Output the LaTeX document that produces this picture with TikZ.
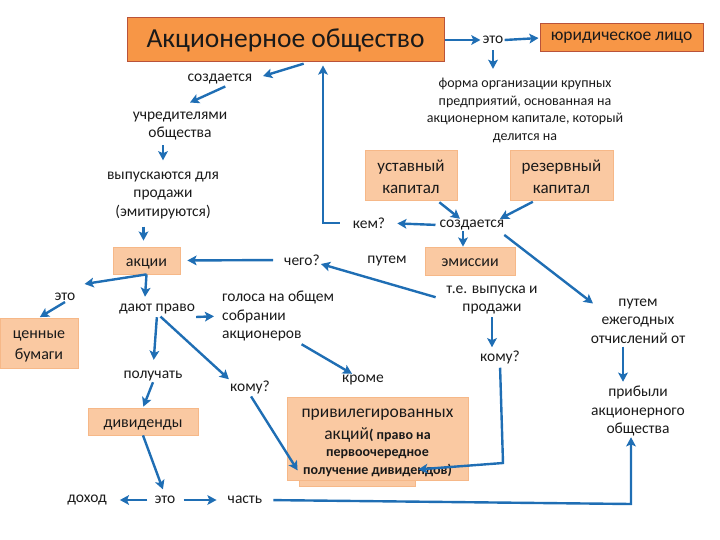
\documentclass[tikz,border=0pt]{standalone}
\usepackage{fontspec}
\setmainfont{Carlito}
\usetikzlibrary{arrows.meta,positioning}
\definecolor{aoorange}{HTML}{F79646}
\definecolor{aored}{HTML}{B9533A}
\definecolor{aopeach}{HTML}{FAC9A2}
\definecolor{aorim}{HTML}{F6B888}
\definecolor{aoblue}{HTML}{1F6EB4}
\definecolor{aoink}{HTML}{1A1A1A}
\tikzset{
  lb/.style={font=\fontsize{15.5}{18.5}\selectfont, align=center, inner sep=1pt, text=aoink},
  topbx/.style={draw=aored, fill=aoorange, line width=1pt, inner sep=0pt, text=aoink},
  pale/.style={draw=aorim, fill=aopeach, line width=0.8pt, inner sep=0pt, align=center, text=aoink, text depth=0pt, font=\fontsize{16}{21}\selectfont},
  one/.style={pale, text height=11pt},
  arr/.style={-{Stealth[length=3.2mm,width=3.4mm,inset=0.7mm]}, line width=2.4pt, color=aoblue},
}
\begin{document}
\begin{tikzpicture}[x=1pt, y=-1pt]
    \useasboundingbox (0,0) rectangle (720,540);
    \node[topbx, minimum width=317pt, minimum height=44pt, font=\fontsize{27.5}{32}\selectfont] (ao) at (285.5,40) {Акционерное общество};
    \node[lb] (eto1) at (493,40) {это};
    \node[topbx, minimum width=163pt, minimum height=28pt, font=\fontsize{17.5}{21}\selectfont] (jur) at (621.5,38) {юридическое лицо};
    \node[lb, font=\fontsize{14}{17.7}\selectfont] (forma) at (525,110.5) {форма организации крупных\\предприятий, основанная на\\акционерном капитале, который\\делится на};
    \node[lb] (sozd1) at (220,79) {создается};
    \node[lb] (uchr) at (180,126) {учредителями\\общества};
    \node[lb] (vyp) at (163,195) {выпускаются для\\продажи\\(эмитируются)};
    \node[one, minimum width=67pt, minimum height=27pt] (akc) at (146.5,260.5) {акции};
    \node[pale, font=\fontsize{17}{22}\selectfont, minimum width=92pt, minimum height=50pt, text height=37pt] (ust) at (411,175) {уставный\\капитал};
    \node[pale, font=\fontsize{17}{22}\selectfont, minimum width=103pt, minimum height=50pt, text height=37pt] (rez) at (561.5,175) {резервный\\капитал};
    \node[lb] (sozd2) at (472,225) {создается};
    \node[lb] (kem) at (369,223) {кем?};
    \node[one, minimum width=90pt, minimum height=28pt] (emis) at (470,261) {эмиссии};
    \node[lb] (putem1) at (387,261) {путем};
    \node[lb] (chego) at (302,260) {чего?};
    \node[lb] (eto2) at (65,297) {это};
    \node[pale, minimum width=78pt, minimum height=50pt, text height=33pt] (cen) at (39,343) {ценные\\бумаги};
    \node[lb] (dayut) at (157,309) {дают право};
    \node[lb, align=left, anchor=west] (golosa) at (221,316) {голоса на общем\\собрании\\акционеров};
    \node[lb] (poluch) at (153,376) {получать};
    \node[lb] (komu1) at (250,387) {кому?};
    \node[one, minimum width=110pt, minimum height=27pt] (div) at (143,421.5) {дивиденды};
    \node[lb] (dohod) at (87,500) {доход};
    \node[lb] (eto3) at (165,500) {это};
    \node[lb] (chast) at (245,500) {часть};
    \node[lb] (krome) at (363,380) {кроме};
    \node[lb] (tevyp) at (492,300) {т.е. выпуска и\\продажи};
    \node[lb] (komu2) at (500,357) {кому?};
    \node[lb] (putem2) at (638,321) {путем\\ежегодных\\отчислений от};
    \node[lb] (prib) at (638,411) {прибыли\\акционерного\\общества};
    \node[pale, minimum width=116pt, minimum height=46pt] (privbk) at (357,463) {};
    \node[pale, minimum width=181pt, minimum height=83pt, text height=71pt, font=\fontsize{14}{17.5}\selectfont] (priv) at (377.5,438.5) {{\fontsize{17.5}{22}\selectfont привилегированных}\\[4pt]{\fontsize{17.5}{22}\selectfont акций}\textbf{( право на}\\\textbf{первоочередное}\\\textbf{получение дивидендов)}};
    \coordinate (cornerR) at (631,504);
    \coordinate (cornerP) at (503,463);
    \foreach \a/\b in {ao.east/eto1.west, eto1.east/jur.west, eto2.south/cen.north, poluch.south/div.north} \draw[arr, shorten >=1pt] (\a) -- (\b);
    \draw[arr, shorten <=5pt, shorten >=8pt] (eto1.south) -- (eto1.south |- forma.north);
    \draw[arr, shorten <=4pt, shorten >=10pt] ([xshift=22pt]ao.south) -- (sozd1.east);
    \draw[arr, shorten <=3pt] ([xshift=8pt]sozd1.south) -- ([xshift=10pt,yshift=8pt]uchr.north);
    \draw[arr, shorten <=4pt, shorten >=10pt] (vyp.north |- uchr.south) -- (vyp.north);
    \draw[arr, shorten <=7pt, shorten >=6pt] ([xshift=-3pt]akc.north |- vyp.south) -- ([xshift=-3pt]akc.north);
    \draw[arr, shorten <=10pt, shorten >=7pt] (chego.west) -- (akc.east);
    \draw[arr, shorten <=10pt] (tevyp.west) -- ([yshift=-4pt]chego.east);
    \draw[arr, shorten <=3pt] ([xshift=26pt]ust.south) -- ([xshift=-12pt]sozd2.north);
    \draw[arr, shorten <=3pt] ([xshift=-26pt]rez.south) -- ([xshift=28pt]sozd2.north);
    \draw[arr, shorten <=3pt, shorten >=11pt] (sozd2.west) -- (kem.east);
    \draw[arr, shorten <=12pt, shorten >=3pt] (kem.west) -| ([xshift=37.5pt]ao.south);
    \draw[arr] ([xshift=-7pt]emis.north |- sozd2.south) -- ([xshift=-7pt]emis.north);
    \draw[arr, shorten <=6pt] ([xshift=-6pt]sozd2.south east) -- ([xshift=-45pt,yshift=-6pt]putem2.north);
    \draw[arr, shorten <=2pt, shorten >=3pt] ([xshift=-15pt]putem2.south) -- ([xshift=-15pt]prib.north);
    \draw[arr] (akc.south) -- ([xshift=8pt,yshift=8pt]eto2.north east);
    \draw[arr] (akc.south) -- ([xshift=-12pt,yshift=6pt]dayut.north);
    \draw[arr, shorten >=7pt] ([yshift=-8pt]dayut.east) -- (golosa.west);
    \draw[arr, shorten <=2pt, shorten >=10pt] (dayut.south) -- (poluch.north);
    \draw[arr, shorten <=2pt] ([xshift=2pt]dayut.south) -- (komu1.north west);
    \draw[arr, shorten >=6pt] (div.south) -- (eto3.north);
    \draw[arr, shorten <=6pt, shorten >=12pt] (eto3.west) -- (dohod.east);
    \draw[arr, shorten <=7pt, shorten >=10pt] (eto3.east) -- (chast.west);
    \draw[arr, shorten <=10pt] (chast.east) -- (cornerR) -- (cornerR |- prib.south);
    \draw[arr, shorten <=4pt] ([xshift=20pt]golosa.south) -- ([xshift=-11pt]krome.north);
    \draw[arr, shorten <=2pt] (komu1.south) -- ([xshift=11pt,yshift=10pt]priv.south west);
    \draw[arr, shorten <=2pt, shorten >=2pt] (tevyp.south) -- (tevyp.south |- komu2.north);
    \draw[arr, shorten <=3pt] (komu2.south) -- (cornerP) -- ([xshift=-50pt,yshift=11pt]priv.south east);
\end{tikzpicture}
\end{document}
